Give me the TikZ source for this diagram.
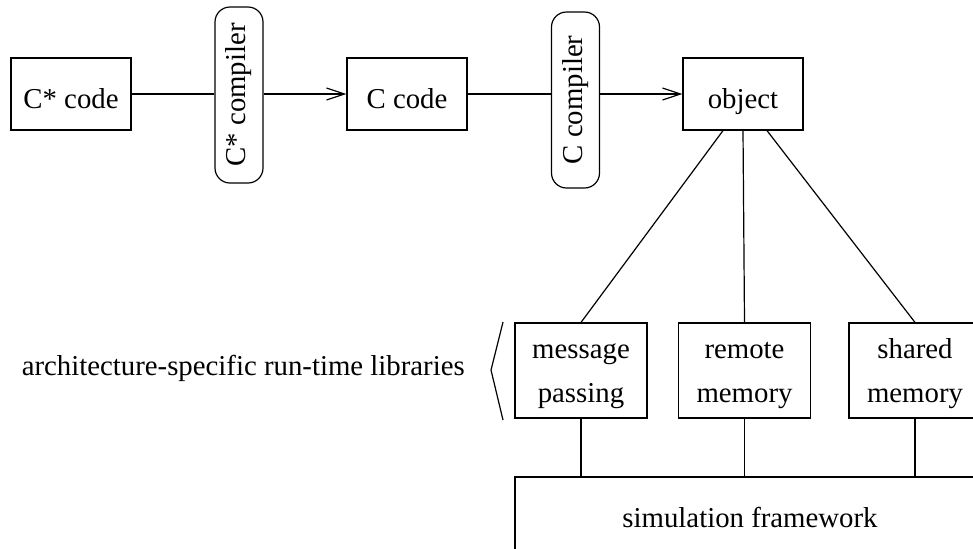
\documentclass[tikz,border=0pt]{standalone}
\usepackage{fontspec}
\setmainfont{Liberation Serif}
\usepackage{tikz}
\usetikzlibrary{arrows.meta,positioning,calc}

\begin{document}
\begin{tikzpicture}[
  x=0.5pt, y=-0.5pt,
  line width=0.6pt,
  font=\fontsize{14.4pt}{22pt}\selectfont,
  box/.style={draw, minimum width=60pt, minimum height=36pt, inner sep=2pt,
              text height=14pt, text depth=0pt},
  compbox/.style={draw, rounded corners=7.5pt, rotate=90,
                  minimum width=88pt, minimum height=24pt, inner sep=1pt},
  libbox/.style={draw, minimum width=66pt, minimum height=47.5pt,
                 align=center, inner sep=2pt, text height=32pt, text depth=0pt},
  arr/.style={-{Straight Barb[length=9pt,width=6pt]}}
]
  \clip (0,0) rectangle (973,548);
  % compile chain
  \node[box] (cstar) at (71,94) {C* code};
  \node[compbox] (cstarcomp) at (239,95) {C* compiler};
  \node[box] (ccode) at (407,94) {C code};
  \node[compbox] (ccomp) at (575.5,100) {C compiler};
  \node[box] (obj) at (743,94) {object};
  \draw (cstar) -- (cstar -| cstarcomp.north);
  \draw[arr] (cstar -| cstarcomp.south) -- (ccode);
  \draw (ccode) -- (ccode -| ccomp.north);
  \draw[arr] (ccode -| ccomp.south) -- (obj);
  % run-time libraries
  \node[libbox] (msg) at (581,370.5) {message\\passing};
  \node[libbox] (rem) at (744.5,370.5) {remote\\memory};
  \node[libbox] (shm) at (915,370.5) {shared\\memory};
  \draw ($(obj.south)+(-20,0)$) -- (msg.north);
  \draw (obj.south) -- (rem.north);
  \draw ($(obj.south)+(24,0)$) -- (shm.north);
  \node[anchor=east] (libtext) at (472,368) {architecture-specific run-time libraries};
  \draw (503,322) -- (491,370) -- (503,420);
  % simulation framework
  \node[draw, minimum width=242.5pt, minimum height=61.5pt] (sim) at (757.5,538.5) {};
  \node (simtext) at (750,517) {simulation framework};
  \foreach \a in {msg,rem,shm}
    \draw (\a.south) -- (\a.south |- sim.north);
\end{tikzpicture}
\end{document}
